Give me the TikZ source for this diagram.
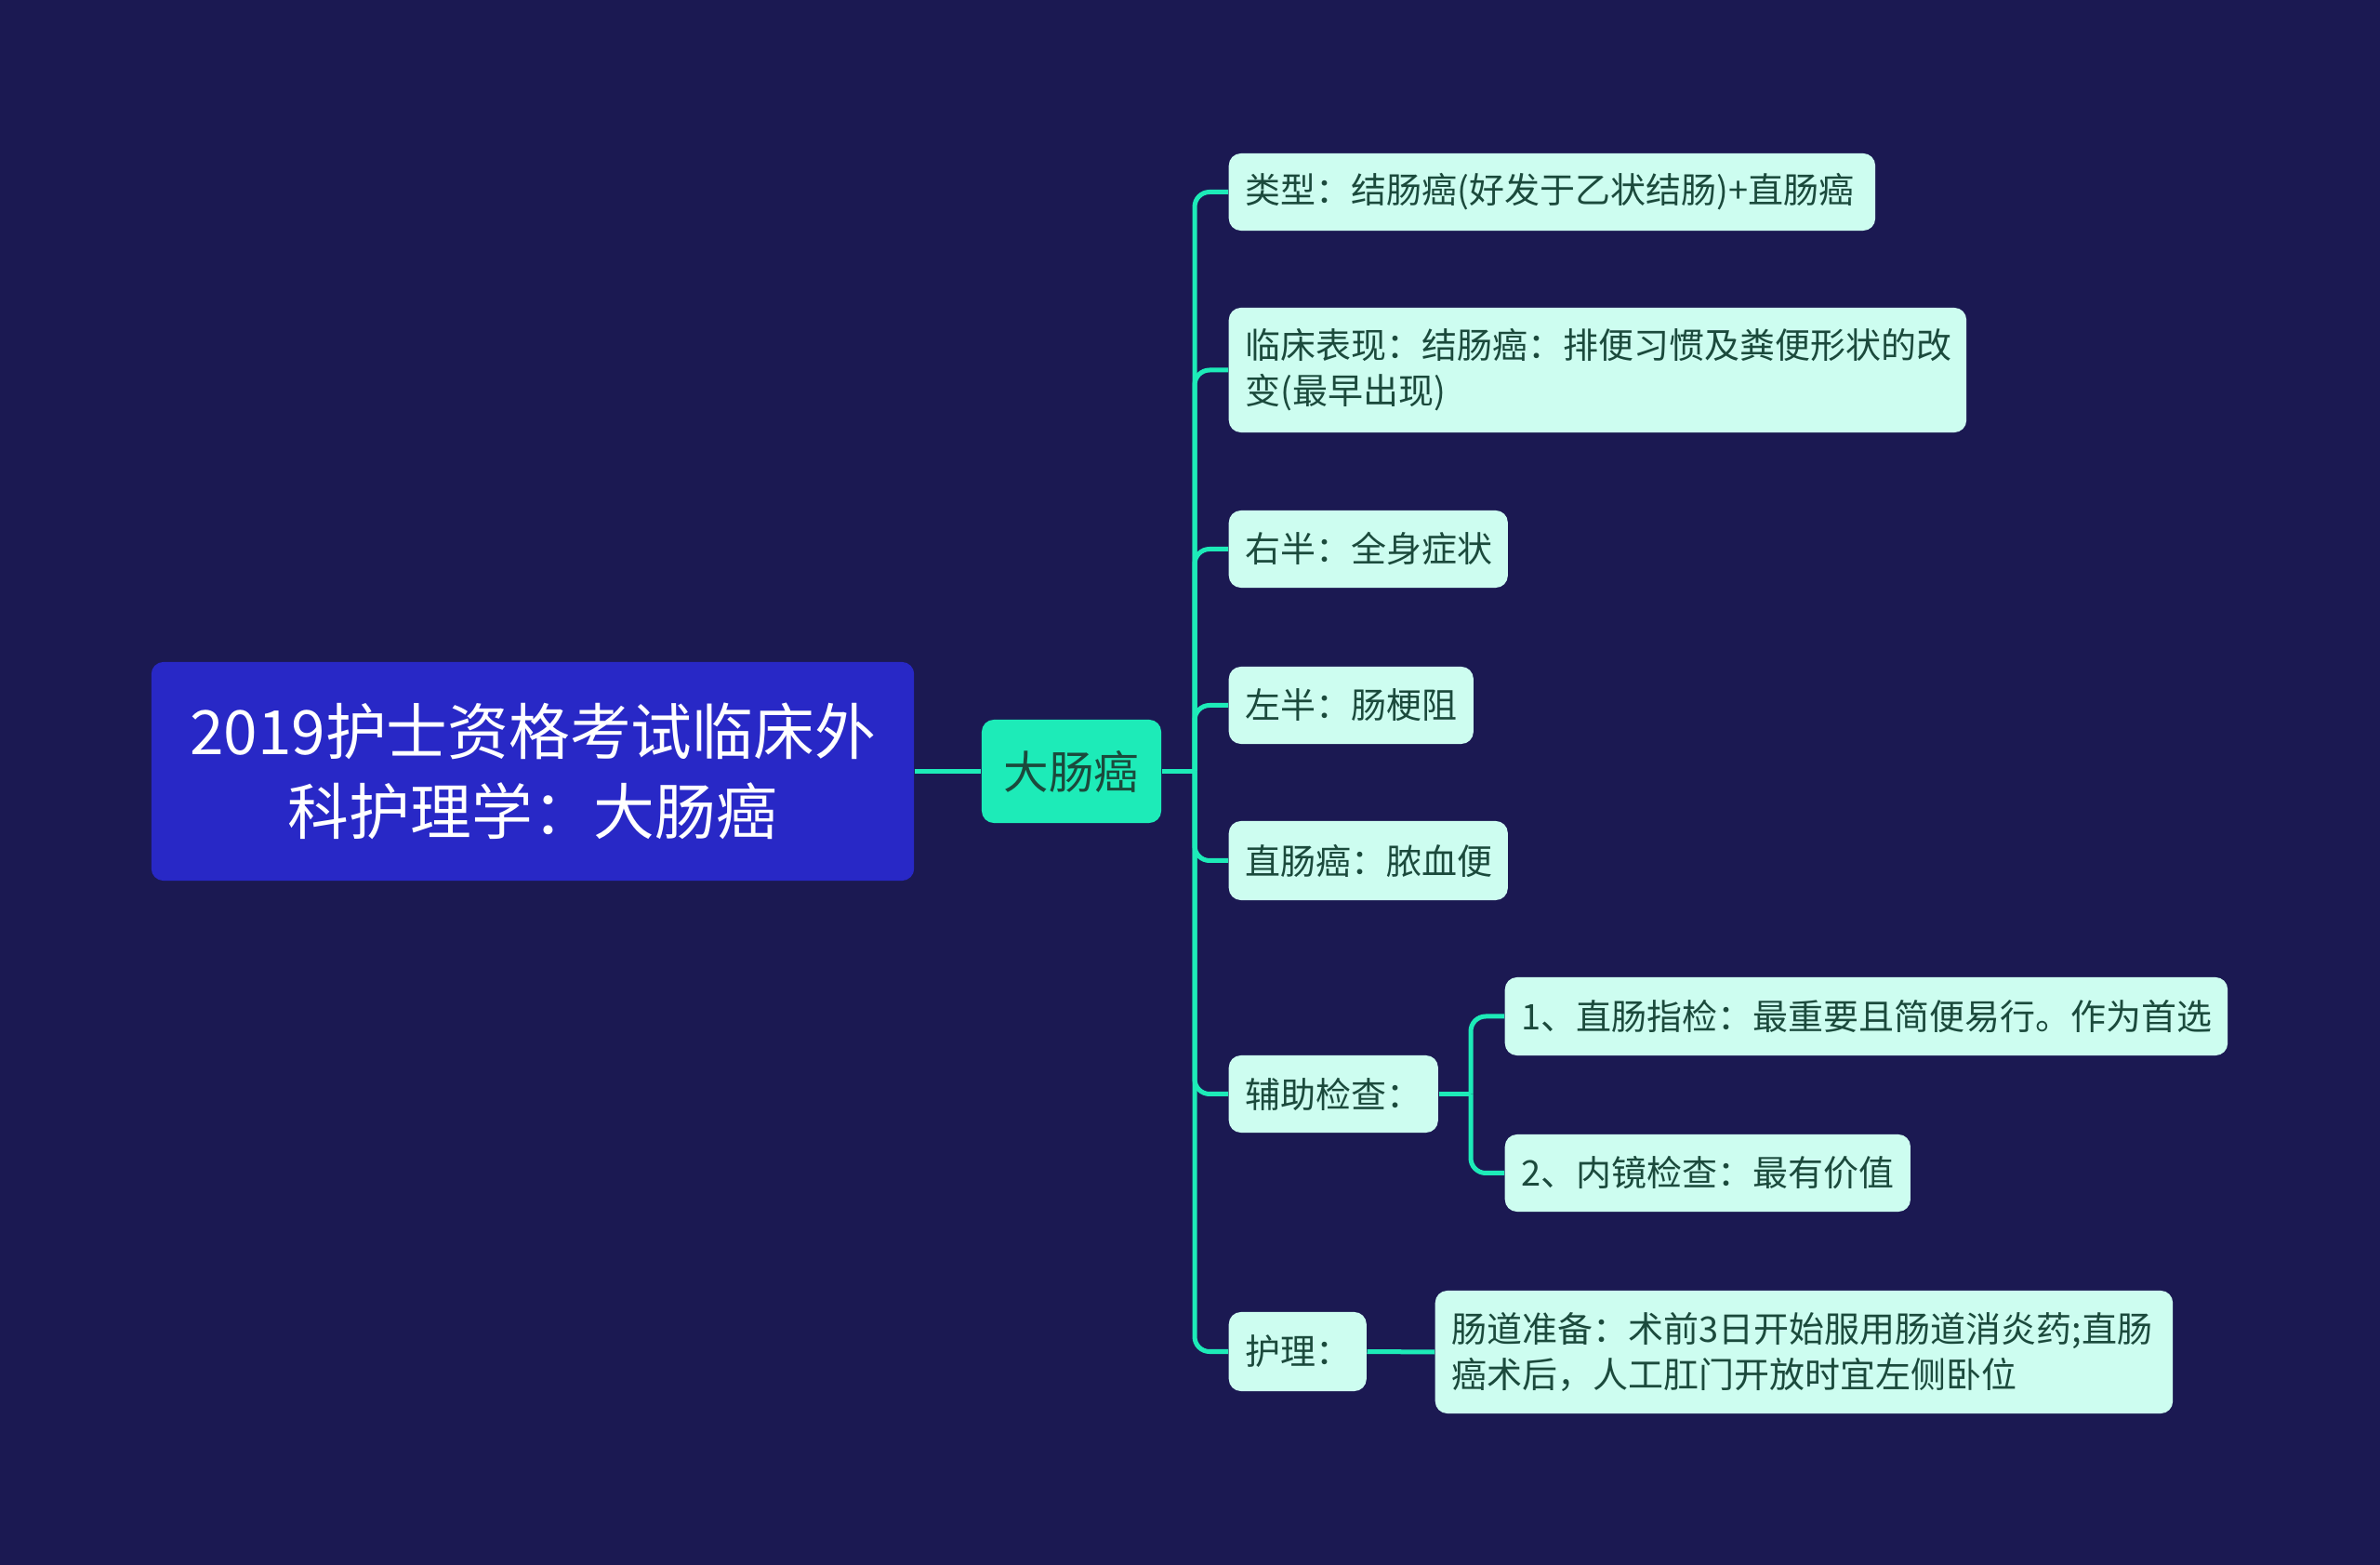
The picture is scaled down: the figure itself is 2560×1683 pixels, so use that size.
\documentclass[tikz,border=0pt]{standalone}
\usepackage{fontspec}
\newfontfamily\cjk{Noto Sans CJK SC}
\definecolor{bgc}{HTML}{1B1952}
\definecolor{rootc}{HTML}{2828C6}
\definecolor{mainc}{HTML}{1DEBB8}
\definecolor{leafc}{HTML}{CDFDF0}
\definecolor{leaft}{HTML}{1B4A3C}
\definecolor{rootline}{HTML}{1DEBB8}
\tikzset{
  rootbox/.style={fill=rootc, rounded corners=0.13cm, text=white, align=center,
    font=\cjk\fontsize{18.7pt}{24.6pt}\selectfont, minimum width=8.2cm, minimum height=2.35cm, inner sep=0pt},
  mainbox/.style={fill=mainc, rounded corners=0.13cm, text=leaft,
    font=\cjk\fontsize{13.8pt}{17pt}\selectfont, minimum width=1.93cm, minimum height=1.11cm, inner sep=0pt},
  leafbox/.style 2 args={fill=leafc, rounded corners=0.13cm, text=leaft, anchor=west, align=left,
    font=\cjk\fontsize{10.8pt}{14pt}\selectfont, inner xsep=0.18cm, inner ysep=0pt,
    text width=#1, minimum height=#2},
  conn/.style={draw=rootline, line width=0.05cm, rounded corners=0.16cm}
}
\begin{document}
\begin{tikzpicture}[x=0.01cm,y=-0.01cm]
\fill[bgc] (0,0) rectangle (2560,1683);
\useasboundingbox (0,0) rectangle (2560,1683);

\node[rootbox] (root) at (573,829.5) {2019护士资格考试临床外\\科护理学：大肠癌};
\node[mainbox] (main) at (1152.5,829.5) {大肠癌};
\coordinate (J) at (1285,829.5);

\node[leafbox={6.59cm}{0.83cm}] (n1) at (1321,206.5) {类型：结肠癌(好发于乙状结肠)+直肠癌};
\node[leafbox={7.57cm}{1.34cm}] (n2) at (1321,398) {临床表现：结肠癌：排便习惯及粪便形状的改\\变(最早出现)};
\node[leafbox={2.64cm}{0.83cm}] (n3) at (1321,590.5) {右半：全身症状};
\node[leafbox={2.27cm}{0.83cm}] (n4) at (1321,758.5) {左半：肠梗阻};
\node[leafbox={2.64cm}{0.85cm}] (n5) at (1321,925.5) {直肠癌：脓血便};
\node[leafbox={1.89cm}{0.83cm}] (n6) at (1321,1176.5) {辅助检查：};
\node[leafbox={7.41cm}{0.84cm}] (n6a) at (1618,1093) {1、直肠指检：最重要且简便易行。作为首选};
\node[leafbox={4.00cm}{0.83cm}] (n6b) at (1618,1261.5) {2、内镜检查：最有价值};
\node[leafbox={1.12cm}{0.85cm}] (n7) at (1321,1453.5) {护理：};
\node[leafbox={7.57cm}{1.32cm}] (n7a) at (1543,1454) {肠道准备：术前3日开始服用肠道消炎药;直肠\\癌术后，人工肛门开放时宜左侧卧位};
\coordinate (J2) at (1582,1176.5);

\draw[conn] (root.east) -- (main.west);
\draw[conn] (main.east) -- (J);
\foreach \n in {n1,n2,n3,n4,n5,n6,n7}{
  \draw[conn] (J) |- (\n.west);
}
\draw[conn] (n6.east) -- (J2);
\draw[conn] (J2) |- (n6a.west);
\draw[conn] (J2) |- (n6b.west);
\draw[conn] (n7.east) -- (n7a.west);
\end{tikzpicture}
\end{document}
